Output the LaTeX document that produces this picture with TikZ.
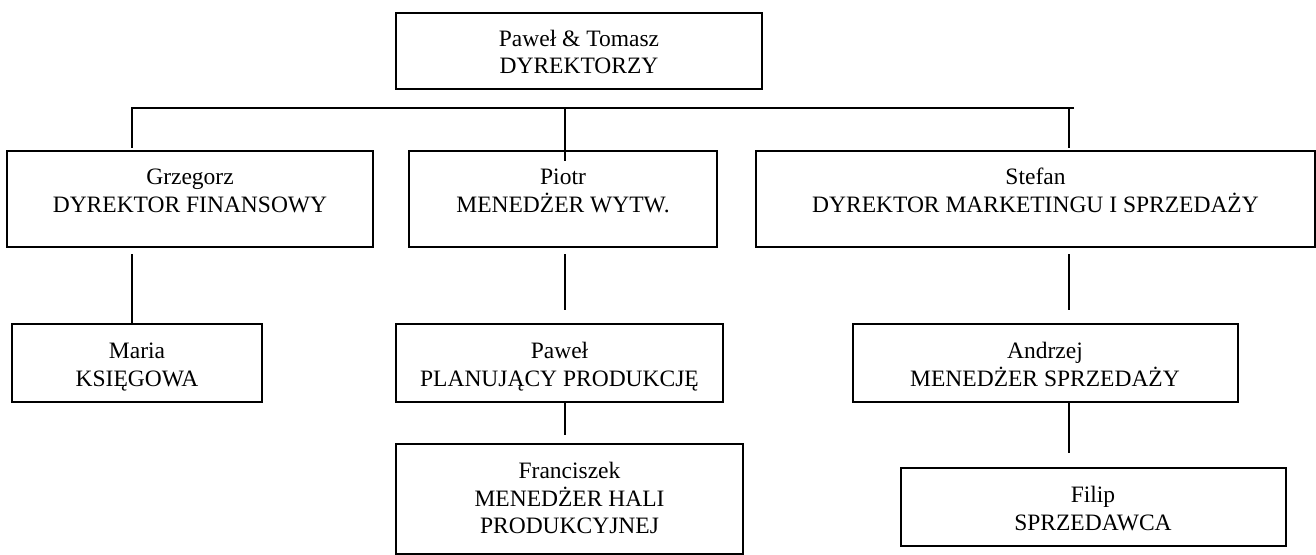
\documentclass[tikz,border=0pt]{standalone}
\usepackage{fontspec}
\setmainfont{Liberation Serif}
\usepackage{tikz}
\tikzset{
  box/.style={
    rectangle,
    draw=black,
    line width=2pt,
    inner sep=0pt,
    align=center,
    anchor=north,
    text height=61pt,
    text depth=35pt,
    font=\fontsize{23.5}{27.5}\selectfont
  },
  small box/.style={
    box,
    text height=62pt,
    text depth=16pt
  },
  link/.style={
    line width=1.5pt
  }
}
\begin{document}
\begin{tikzpicture}[x=1pt,y=-1pt]
\useasboundingbox (0,0) rectangle (1316,554);

\node[small box, minimum width=366pt, text height=60.5pt, text depth=15.5pt] (dir) at (579,12) {Paweł \& Tomasz\\DYREKTORZY};

\node[box, minimum width=366pt] (grz) at (190,150) {Grzegorz\\DYREKTOR FINANSOWY};
\node[box, minimum width=308pt] (pio) at (563,150) {Piotr\\MENEDŻER WYTW.};
\node[box, minimum width=559pt] (ste) at (1035.5,150) {Stefan\\DYREKTOR MARKETINGU I SPRZEDAŻY};

\node[small box, minimum width=250pt] (mar) at (137,323) {Maria\\KSIĘGOWA};
\node[small box, minimum width=327pt] (paw) at (559.5,323) {Paweł\\PLANUJĄCY PRODUKCJĘ};
\node[small box, minimum width=385pt] (andr) at (1045,323) {Andrzej\\MENEDŻER SPRZEDAŻY};

\node[box, minimum width=347pt, text height=89.5pt, text depth=20.5pt] (fra) at (569.5,443) {Franciszek\\MENEDŻER HALI\\PRODUKCYJNEJ};
\node[small box, minimum width=385pt] (fil) at (1093,467) {Filip\\SPRZEDAWCA};

% bus and drops
\coordinate (ca) at (132,108);
\coordinate (cb) at (565,108);
\coordinate (cc) at (1069,108);

\draw[link, shorten >=2pt] ([xshift=5pt]cc) -- (ca) -- (ca |- grz.north);
\draw[link, shorten >=-11pt] (cb) -- (cb |- pio.north);
\draw[link, shorten >=2pt] (cc) -- (cc |- ste.north);

\draw[link, shorten <=6pt] (ca |- grz.south) -- (ca |- mar.north);
\draw[link, shorten <=6pt, shorten >=13pt] (cb |- pio.south) -- (cb |- paw.north);
\draw[link, shorten <=6pt, shorten >=13pt] (cc |- ste.south) -- (cc |- andr.north);
\draw[link, shorten >=8pt] (cb |- paw.south) -- (cb |- fra.north);
\draw[link, shorten >=14pt] (cc |- andr.south) -- (cc |- fil.north);

\end{tikzpicture}
\end{document}
